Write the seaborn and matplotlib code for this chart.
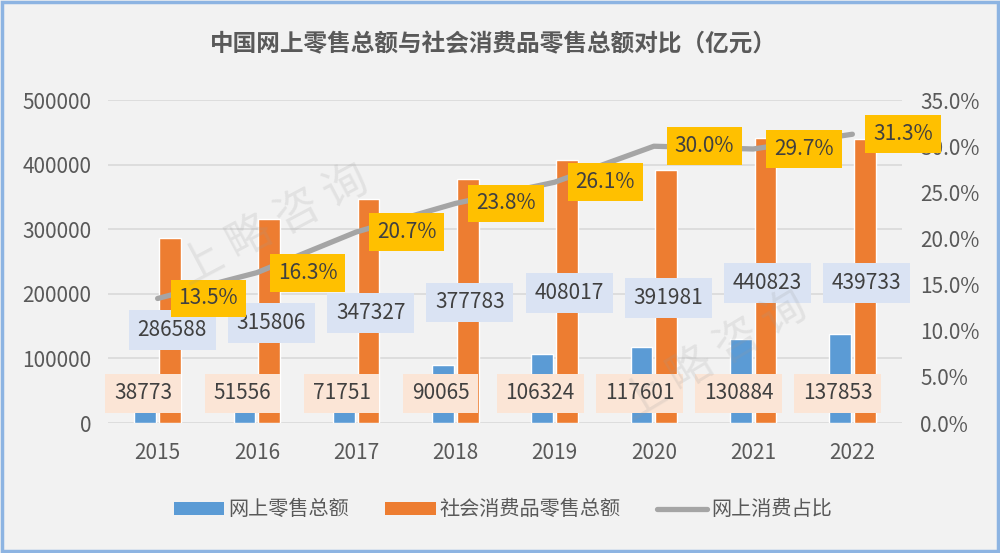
import numpy as np
import pandas as pd
import matplotlib
matplotlib.use("Agg")
import matplotlib.pyplot as plt
from matplotlib.patches import Patch, Rectangle
from matplotlib.lines import Line2D
from matplotlib.ticker import FuncFormatter, MultipleLocator
import seaborn as sns

# data (亿元)
years = ["2015", "2016", "2017", "2018", "2019", "2020", "2021", "2022"]
online_retail = [38773, 51556, 71751, 90065, 106324, 117601, 130884, 137853]
total_retail = [286588, 315806, 347327, 377783, 408017, 391981, 440823, 439733]
online_share = [13.5, 16.3, 20.7, 23.8, 26.1, 30.0, 29.7, 31.3]

series_names = ["网上零售总额", "社会消费品零售总额", "网上消费占比"]

# label placement (layout only, in left-axis units)
online_label_y = 46000
total_label_y = [144000, 155000, 170000, 187000, 201000, 193500, 216700, 216700]

BLUE = "#5B9BD5"
ORANGE = "#ED7D31"
GRAY = "#A5A5A5"
YELLOW = "#FFC000"
BG = "#F2F2F2"
TXT = "#595959"

sns.set_theme(style="white")
plt.rcParams["font.family"] = ["Noto Sans CJK SC", "DejaVu Sans"]
plt.rcParams["axes.unicode_minus"] = False

df = pd.DataFrame({
    "year": years * 2,
    "series": [series_names[0]] * len(years) + [series_names[1]] * len(years),
    "value": online_retail + total_retail,
})

fig = plt.figure(figsize=(10, 5.53), dpi=100, facecolor=BG)
ax = fig.add_axes([0.108, 0.235, 0.794, 0.584])
ax.set_facecolor(BG)

sns.barplot(data=df, x="year", y="value", hue="series", order=years,
            hue_order=series_names[:2], palette=[BLUE, ORANGE],
            width=0.5, gap=0.12, saturation=1, legend=False, ax=ax, zorder=2)

ax.set_ylim(0, 500000)
ax.set_xlim(-0.5, len(years) - 0.5)
ax.yaxis.set_major_locator(MultipleLocator(100000))
ax.grid(axis="y", color="#D9D9D9", lw=1.2, zorder=0)
ax.set_axisbelow(True)
for s in ax.spines.values():
    s.set_visible(False)
ax.set_xlabel("")
ax.set_ylabel("")
ax.tick_params(axis="both", length=0, labelsize=15, labelcolor=TXT)
ax.tick_params(axis="x", pad=14)
ax.tick_params(axis="y", pad=12)

# value labels on bars
for i in range(len(years)):
    ax.text(i - 0.146, online_label_y, f"{online_retail[i]}", ha="center", va="center",
            fontsize=15, color="#404040", zorder=4,
            bbox=dict(boxstyle="square,pad=0.42", fc="#FBE5D6", ec="none"))
    ax.text(i + 0.146, total_label_y[i], f"{total_retail[i]}", ha="center", va="center",
            fontsize=15, color="#404040", zorder=4,
            bbox=dict(boxstyle="square,pad=0.42", fc="#DAE3F3", ec="none"))

# share line on the right axis
ax2 = ax.twinx()
sns.lineplot(x=np.arange(len(years)), y=online_share, color=GRAY, lw=3.8,
             ax=ax2, zorder=3)
ax2.set_ylim(0, 35)
ax2.set_xlim(-0.5, len(years) - 0.5)
ax2.yaxis.set_major_locator(MultipleLocator(5))
ax2.yaxis.set_major_formatter(FuncFormatter(lambda v, p: f"{v:.1f}%"))
for s in ax2.spines.values():
    s.set_visible(False)
ax2.tick_params(axis="y", length=0, labelsize=15, labelcolor=TXT, pad=13)
ax2.grid(False)

for i, v in enumerate(online_share):
    ax2.annotate(f"{v:.1f}%", (i, v), xytext=(15, 0), textcoords="offset points",
                 ha="left", va="center", fontsize=15, color="#404040", zorder=5,
                 bbox=dict(boxstyle="square,pad=0.38", fc=YELLOW, ec="none"))

fig.text(0.493, 0.919, "中国网上零售总额与社会消费品零售总额对比（亿元）",
         ha="center", va="center", fontsize=17, fontweight="bold", color=TXT)

handles = [Patch(fc=BLUE, ec="none"), Patch(fc=ORANGE, ec="none"),
           Line2D([], [], color=GRAY, lw=3.8)]
fig.legend(handles, series_names, loc="center", bbox_to_anchor=(0.503, 0.078),
           ncol=3, frameon=False, fontsize=14.5, labelcolor=TXT,
           handlelength=2.5, handleheight=0.6, handletextpad=0.2, columnspacing=1.8)

# faint watermarks
for (x, y, r) in [(0.274, 0.593, 28), (0.714, 0.356, 31)]:
    fig.text(x, y, "上 略 咨 询", rotation=r, fontsize=32, color="#9A9A9A",
             alpha=0.18, ha="center", va="center", rotation_mode="anchor", zorder=10)

fig.patches.append(Rectangle((0.002, 0.003), 0.996, 0.994, transform=fig.transFigure,
                             fill=False, ec="#8DB4E2", lw=2.5))

fig.savefig("out.png", dpi=100, facecolor=BG)
